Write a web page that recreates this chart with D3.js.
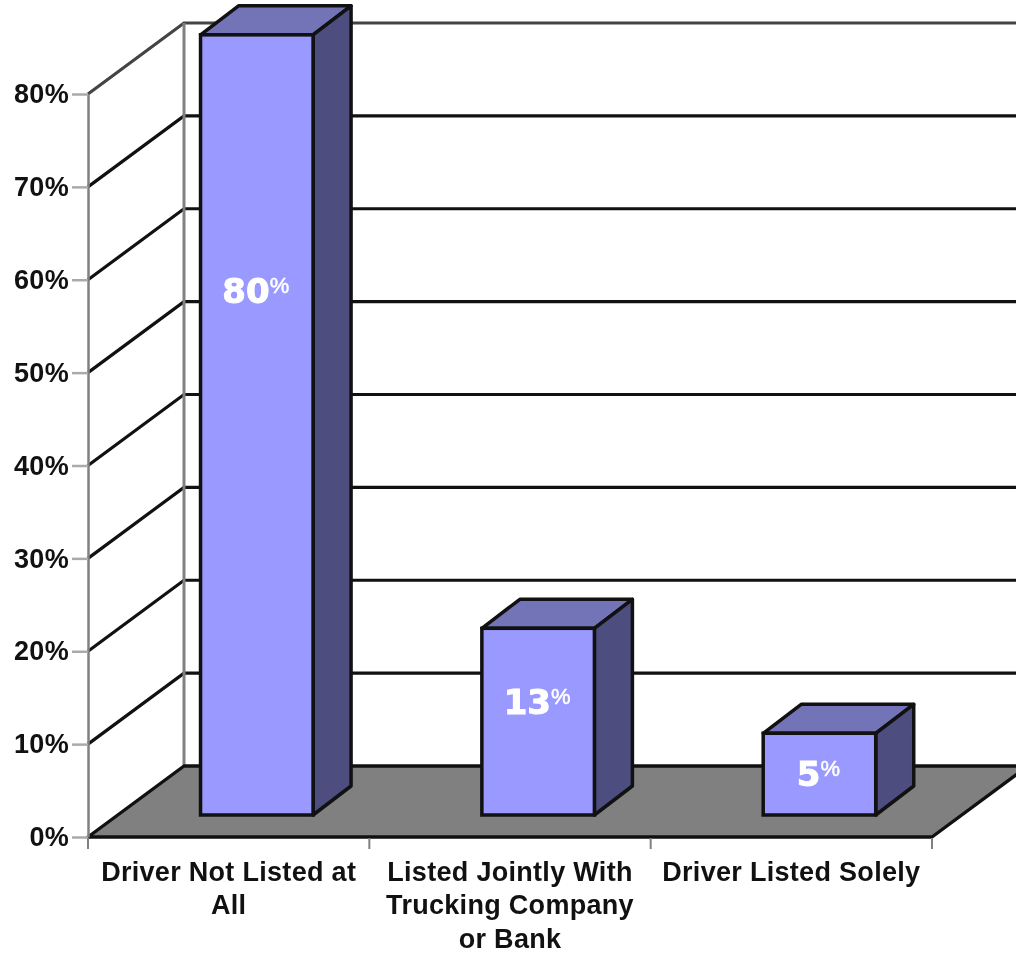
<!DOCTYPE html>
<html><head><meta charset="utf-8">
<script src="https://cdnjs.cloudflare.com/ajax/libs/d3/7.8.5/d3.min.js"></script>
<style>
html,body{margin:0;padding:0;background:#fff;overflow:hidden}
svg{display:block;filter:blur(0.5px)}
text{font-family:"Liberation Sans",Arial,sans-serif;font-weight:700;fill:#111}
</style></head><body><svg id="c" width="1016" height="953"></svg>
<script>
const categories = [["Driver Not Listed at","All"],["Listed Jointly With","Trucking Company","or Bank"],["Driver Listed Solely"]];
const plottedValues = [84, 20.1, 8.8];
const valueLabels = ["80","13","5"];
const yTicks = [0,10,20,30,40,50,60,70,80];

const W=1016,H=953;
const svg=d3.select("#c");
const y=d3.scaleLinear().domain([0,80]).range([837,94]);
const x=d3.scaleBand().domain(d3.range(categories.length)).range([88,932]);
const depth={dx:96,dy:-71};
const barDepth={dx:38,dy:-29};
const lift=22;
const barOffset=x.bandwidth()*0.4, barW=x.bandwidth()*0.4;
const gridDark="#111", axisGray="#808080";
const clip=svg.append("g");

// wall grid lines (side wall diagonal + back wall)
const grid=clip.append("g").attr("fill","none");
grid.selectAll("path").data(yTicks.filter(d=>d>0)).join("path")
  .attr("d",d=>`M${x.range()[0]},${y(d)}L${x.range()[0]+depth.dx},${y(d)+depth.dy}L${W+5},${y(d)+depth.dy}`)
  .attr("stroke",d=>d===80?"#444":gridDark).attr("stroke-width",3.2);

// back-wall vertical
clip.append("line").attr("x1",x.range()[0]+depth.dx).attr("x2",x.range()[0]+depth.dx)
  .attr("y1",y(80)+depth.dy).attr("y2",y(0)+depth.dy).attr("stroke",axisGray).attr("stroke-width",3);

// floor
clip.append("path")
  .attr("d",`M${x.range()[0]},${y(0)}L${x.range()[1]},${y(0)}L${x.range()[1]+depth.dx},${y(0)+depth.dy}L${x.range()[0]+depth.dx},${y(0)+depth.dy}Z`)
  .attr("fill","#808080").attr("stroke","#111").attr("stroke-width",3.4).attr("stroke-linejoin","round");

// axes
const yAxis=d3.axisLeft(y).tickValues(yTicks).tickFormat(d=>d+"%").tickSize(16).tickPadding(3).tickSizeOuter(0);
const gy=svg.append("g").attr("transform",`translate(${x.range()[0]},0)`).call(yAxis);
gy.select(".domain").attr("stroke",axisGray).attr("stroke-width",2.5);
gy.selectAll(".tick line").attr("stroke","#aaa").attr("stroke-width",2.5);
gy.selectAll(".tick text").attr("font-size",27).attr("letter-spacing",0.3).attr("fill","#111")
  .attr("font-family",'"Liberation Sans"').attr("font-weight",700);

const xTicks=svg.append("g");
xTicks.selectAll("line").data([...x.domain().map(d=>x(d)),x.range()[1]]).join("line")
  .attr("x1",d=>d).attr("x2",d=>d).attr("y1",y(0)+1).attr("y2",y(0)+12)
  .attr("stroke",axisGray).attr("stroke-width",2);

const lab=svg.append("g").attr("text-anchor","middle");
categories.forEach((lines,i)=>{
  lines.forEach((t,j)=>{
    lab.append("text").attr("x",x(i)+x.bandwidth()/2).attr("y",881+j*33.3)
      .attr("font-size",27).attr("letter-spacing",0.3).text(t);
  });
});

// bars
const bars=svg.append("g").selectAll("g").data(plottedValues).join("g");
const L=(d,i)=>x(i)+barOffset, R=(d,i)=>L(d,i)+barW, T=d=>y(d)-lift, B=()=>y(0)-lift;
const sw=3.5;
bars.append("path").attr("fill","#7373b8").attr("stroke","#111").attr("stroke-width",sw).attr("stroke-linejoin","round")
  .attr("d",(d,i)=>`M${L(d,i)},${T(d)}L${L(d,i)+barDepth.dx},${T(d)+barDepth.dy}L${R(d,i)+barDepth.dx},${T(d)+barDepth.dy}L${R(d,i)},${T(d)}Z`);
bars.append("path").attr("fill","#4d4d80").attr("stroke","#111").attr("stroke-width",sw).attr("stroke-linejoin","round")
  .attr("d",(d,i)=>`M${R(d,i)},${T(d)}L${R(d,i)+barDepth.dx},${T(d)+barDepth.dy}L${R(d,i)+barDepth.dx},${B()+barDepth.dy}L${R(d,i)},${B()}Z`);
bars.append("rect").attr("fill","#9999ff").attr("stroke","#111").attr("stroke-width",sw)
  .attr("x",L).attr("y",T).attr("width",barW).attr("height",d=>B()-T(d));

// value labels
const vl=svg.append("g");
const labelBase=[303,714,786];
const t=vl.selectAll("text").data(valueLabels).join("text")
  .attr("x",(d,i)=>L(0,i)+barW/2-1).attr("y",(d,i)=>labelBase[i]).attr("text-anchor","middle")
  .style("fill","#fff").style("stroke","#fff");
t.append("tspan").style("font-family",'"DejaVu Sans"').style("stroke-width",1).attr("font-size",34).text(d=>d);
t.append("tspan").attr("font-size",22).attr("dy",-10).style("font-family",'"Liberation Sans"').style("stroke-width",0.5).attr("font-weight",400).text("%");
</script></body></html>
